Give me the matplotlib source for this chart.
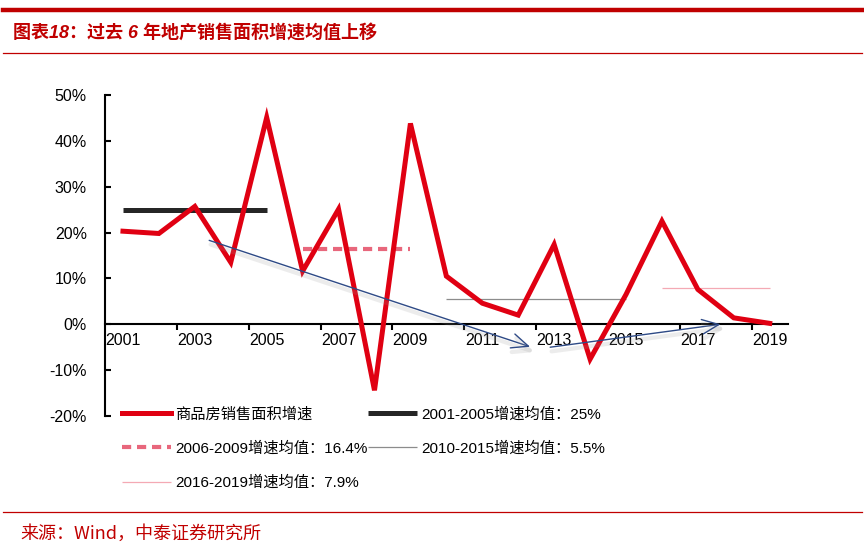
import matplotlib
matplotlib.use('Agg')
import matplotlib.pyplot as plt
import matplotlib.patheffects as pe
from matplotlib.lines import Line2D
import numpy as np

# ---------------- data ----------------
years = list(range(2001, 2020))
growth = [20.3, 19.8, 25.7, 13.5, 45.1, 11.6, 25.1, -14.4, 43.8, 10.5,
          4.6, 2.0, 17.4, -7.6, 6.5, 22.5, 7.6, 1.4, 0.2]
series_label = '商品房销售面积增速'

avg_labels = ['2001-2005增速均值：25%', '2006-2009增速均值：16.4%',
              '2010-2015增速均值：5.5%', '2016-2019增速均值：7.9%']
avg_values = [25.0, 16.4, 5.5, 7.9]
avg_starts = [2001, 2006, 2010, 2016]
avg_ends = [2005, 2009, 2015, 2019]

y_ticks = [-20, -10, 0, 10, 20, 30, 40, 50]
x_tick_years = [2001, 2003, 2005, 2007, 2009, 2011, 2013, 2015, 2017, 2019]

arrow_starts = [(2003.4, 18.3), (2012.89, -5.0)]
arrow_ends = [(2012.33, -4.9), (2017.63, 0.0)]

title = '图表18：过去 6 年地产销售面积增速均值上移'
source = '来源：Wind，中泰证券研究所'

# ---------------- styles ----------------
FAM = ['Liberation Sans', 'Noto Sans CJK SC']
plt.rcParams['font.family'] = FAM
DARK_RED = '#C00000'
RED = '#E00012'
avg_styles = [
    dict(color='#262626', lw=3.6, ls='-'),
    dict(color='#E8677C', lw=3.0, ls=(0, (2.2, 1.4))),
    dict(color='#8C8C8C', lw=0.9, ls='-'),
    dict(color='#F4A9B4', lw=0.9, ls='-'),
]

W, H = 864, 555
fig = plt.figure(figsize=(W / 100, H / 100), dpi=100)
ax = fig.add_axes([105 / W, (H - 416) / H, 682.7 / W, 321 / H])

# main series
h_main, = ax.plot(years, growth, color=RED, lw=3.6, solid_joinstyle='miter',
                  zorder=5, label=series_label)

# average lines
avg_handles = []
for lab, v, s, e, st in zip(avg_labels, avg_values, avg_starts, avg_ends, avg_styles):
    h, = ax.plot([s, e], [v, v], label=lab, zorder=4, solid_capstyle='butt',
                 dash_capstyle='butt', **st)
    avg_handles.append(h)

# arrows
for st, en in zip(arrow_starts, arrow_ends):
    ax.annotate('', xy=en, xytext=st, zorder=6,
                arrowprops=dict(arrowstyle='->,head_length=0.8,head_width=0.35',
                                color='#2E4A86', lw=1.0, mutation_scale=15,
                                shrinkA=0, shrinkB=0,
                                path_effects=[pe.SimpleLineShadow(offset=(1.0, -3.0),
                                                                  shadow_color='#999999',
                                                                  alpha=0.18, linewidth=3),
                                              pe.Normal()]))

# axes formatting
ax.set_xlim(2000.5, 2019.5)
ax.set_ylim(-20, 50)
ax.spines['top'].set_visible(False)
ax.spines['right'].set_visible(False)
ax.spines['bottom'].set_position(('data', 0))
for sp in ('left', 'bottom'):
    ax.spines[sp].set_linewidth(1.5)
    ax.spines[sp].set_color('black')

ax.set_yticks(y_ticks)
ax.yaxis.set_major_formatter(lambda v, p: f'{v:.0f}%')
ax.tick_params(axis='y', direction='in', length=4, width=1.5, pad=13,
               labelsize=11.5)

ax.set_xticks(x_tick_years)
ax.set_xticklabels([str(y) for y in x_tick_years])
ax.set_xticks(np.arange(2002.5, 2019, 2), minor=True)
ax.tick_params(axis='x', which='major', length=0, pad=6, labelsize=11.5)
ax.tick_params(axis='x', which='minor', direction='out', length=4, width=1.5)
for t in ax.get_xticklabels():
    t.set_zorder(3)

# legend (row-major ordering for 2 columns)
handles = [h_main, avg_handles[1], avg_handles[3], avg_handles[0], avg_handles[2]]
labels = [h.get_label() for h in handles]
fig.legend(handles, labels, loc='upper left', bbox_to_anchor=(122 / W, 1 - 407 / H),
           ncol=2, frameon=False, handlelength=3.2,
           handletextpad=0.3, columnspacing=0.0, labelspacing=1.3,
           borderpad=0, borderaxespad=0, prop={'family': FAM, 'size': 11})

# decorations
fig.add_artist(Line2D([3 / W, 862 / W], [1 - 10 / H] * 2, transform=fig.transFigure,
                      color=DARK_RED, lw=3.2))
fig.add_artist(Line2D([3 / W, 862 / W], [1 - 53 / H] * 2, transform=fig.transFigure,
                      color=DARK_RED, lw=0.9))
fig.add_artist(Line2D([3 / W, 862 / W], [1 - 512 / H] * 2, transform=fig.transFigure,
                      color=DARK_RED, lw=0.9))
fig.text(13 / W, 1 - 33 / H, title, ha='left', va='center', fontsize=13,
         fontweight='bold', style='italic', color=DARK_RED, family=FAM)
fig.text(20 / W, 1 - 534 / H, source, ha='left', va='center', fontsize=13,
         color=DARK_RED, family=['Noto Sans CJK SC', 'Liberation Sans'])

fig.savefig('out.png', dpi=100)
